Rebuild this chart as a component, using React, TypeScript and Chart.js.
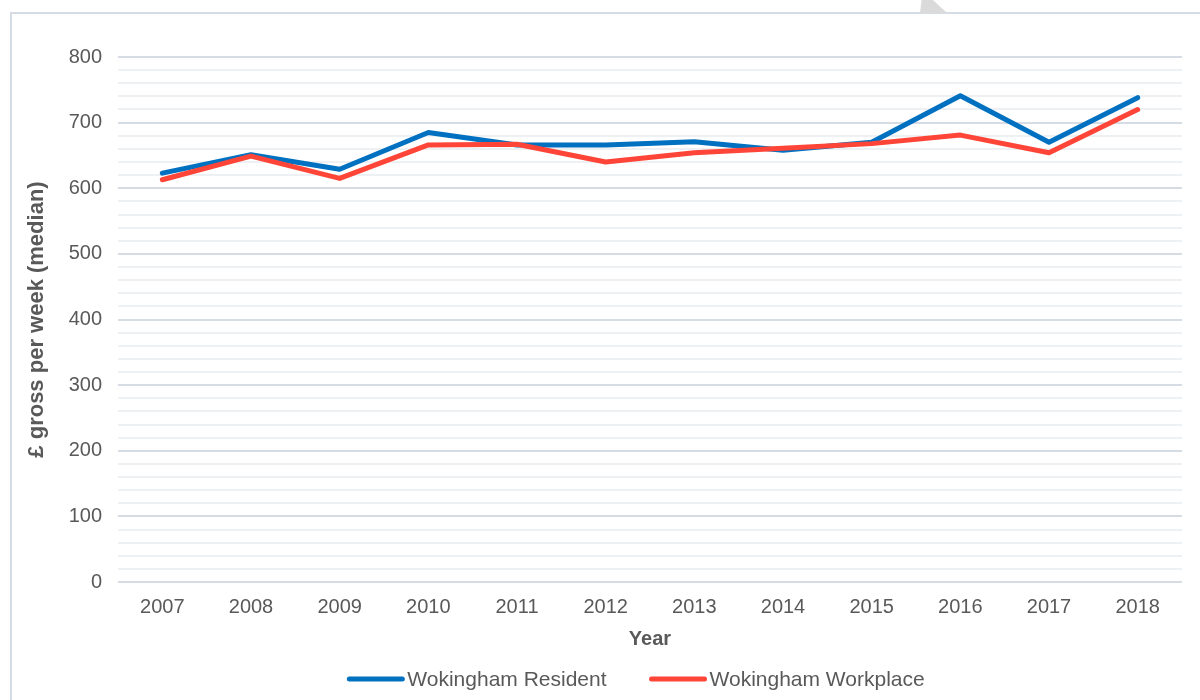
import React, { useEffect, useRef } from "react";
import { Chart, registerables } from "chart.js";

Chart.register(...registerables);

const years = ["2007", "2008", "2009", "2010", "2011", "2012", "2013", "2014", "2015", "2016", "2017", "2018"];
const residentValues = [623, 651, 629, 685, 666, 666, 671, 658, 670, 741, 670, 738];
const workplaceValues = [613, 649, 615, 666, 667, 640, 654, 661, 668, 681, 654, 720];
const seriesNames = ["Wokingham Resident", "Wokingham Workplace"];
const seriesColors = ["#0070C0", "#FF4538"];
const yTitle = "£ gross per week (median)";
const xTitle = "Year";

const FONT = "'Liberation Sans', Arial, sans-serif";
const TEXT = "#595959";

const legendPlugin = {
  id: "customLegend",
  afterDraw(chart: any) {
    const ctx = chart.ctx;
    ctx.save();
    ctx.font = `21px ${FONT}`;
    const lineW = 57;
    const gapText = 3;
    const gapItem = 43;
    const items = chart.data.datasets.map((d: any) => ({
      label: d.label,
      color: d.borderColor,
      w: lineW + gapText + ctx.measureText(d.label).width,
    }));
    const total = items.reduce((s: number, it: any) => s + it.w, 0) + gapItem * (items.length - 1);
    let x = 636 - total / 2;
    const y = 679;
    for (const it of items) {
      ctx.strokeStyle = it.color;
      ctx.lineWidth = 5;
      ctx.lineCap = "round";
      ctx.beginPath();
      ctx.moveTo(x + 2, y);
      ctx.lineTo(x + lineW - 2, y);
      ctx.stroke();
      ctx.fillStyle = TEXT;
      ctx.textBaseline = "middle";
      ctx.textAlign = "left";
      ctx.fillText(it.label, x + lineW + gapText, y + 1);
      x += it.w + gapItem;
    }
    ctx.restore();
  },
};

export default function App() {
  const ref = useRef<HTMLCanvasElement>(null);
  useEffect(() => {
    if (!ref.current) return;
    const chart = new Chart(ref.current, {
      type: "line",
      data: {
        labels: years,
        datasets: [
          {
            label: seriesNames[0],
            data: residentValues,
            borderColor: seriesColors[0],
            backgroundColor: seriesColors[0],
            borderWidth: 5,
            pointRadius: 0,
            tension: 0,
            borderCapStyle: "round",
            borderJoinStyle: "round",
            order: 1,
          },
          {
            label: seriesNames[1],
            data: workplaceValues,
            borderColor: seriesColors[1],
            backgroundColor: seriesColors[1],
            borderWidth: 5,
            pointRadius: 0,
            tension: 0,
            borderCapStyle: "round",
            borderJoinStyle: "round",
            order: 0,
          },
        ],
      },
      options: {
        responsive: false,
        animation: false,
        layout: { padding: { left: 0, right: 18, top: 57, bottom: 49 } },
        plugins: {
          legend: { display: false },
          tooltip: { enabled: false },
        },
        scales: {
          x: {
            offset: true,
            grid: { display: false, offset: true },
            border: { display: false },
            ticks: { color: TEXT, font: { family: FONT, size: 20 }, padding: 5 },
            title: {
              display: true,
              text: xTitle,
              color: TEXT,
              font: { family: FONT, size: 20, weight: "bold" },
              padding: { top: 3, bottom: 0 },
            },
          },
          y: {
            min: 0,
            max: 800,
            border: { display: false },
            afterFit: (scale: any) => {
              scale.width = 118;
            },
            grid: {
              drawTicks: false,
              color: (c: any) => (c.tick && c.tick.value % 100 === 0 ? "#D6DCE3" : "#EEF1F4"),
              lineWidth: 2,
            },
            ticks: {
              stepSize: 20,
              autoSkip: false,
              padding: 16,
              color: TEXT,
              font: { family: FONT, size: 20 },
              callback: (v: any) => (Number(v) % 100 === 0 ? String(v) : ""),
            },
            title: {
              display: true,
              text: yTitle,
              color: TEXT,
              font: { family: FONT, size: 22, weight: "bold" },
              padding: { top: 24, bottom: 0 },
            },
          },
        },
      },
      plugins: [legendPlugin],
    });
    return () => chart.destroy();
  }, []);

  return (
    <div>
      <div
        style={{
          position: "fixed",
          left: 10,
          top: 12,
          width: 1300,
          height: 800,
          borderLeft: "2px solid #D6DCE4",
          borderTop: "2px solid #D6DCE4",
          background: "#fff",
        }}
      />
      <div
        style={{
          position: "fixed",
          left: 920,
          top: 0,
          width: 27,
          height: 13,
          background: "#DADADA",
          clipPath: "polygon(0 100%, 6% 0, 48% 0, 100% 100%)",
        }}
      />
      <canvas
        ref={ref}
        width={1200}
        height={700}
        style={{ position: "fixed", left: 0, top: 0, width: 1200, height: 700 }}
      />
    </div>
  );
}
